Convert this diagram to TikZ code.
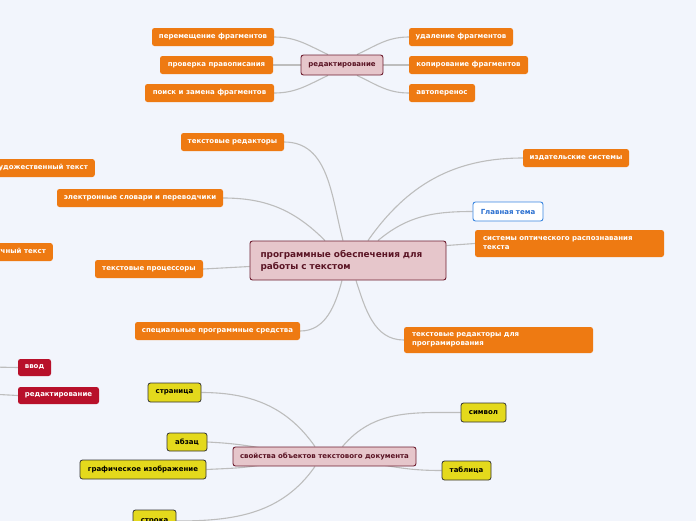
\documentclass[tikz,border=0pt]{standalone}
\usepackage{fontspec}
\newfontfamily\dv{DejaVu Sans}
\usetikzlibrary{calc}
\definecolor{bgc}{HTML}{F2F5FC}
\definecolor{orc}{HTML}{EE7A12}
\definecolor{pkf}{HTML}{E6C6CB}
\definecolor{pkd}{HTML}{6E1E30}
\definecolor{pkt}{HTML}{5A1424}
\definecolor{rdc}{HTML}{B8102A}
\definecolor{ylc}{HTML}{E4D91C}
\definecolor{bld}{HTML}{3A86E0}
\definecolor{blt}{HTML}{2A6FD0}
\definecolor{lnc}{HTML}{BDBDBD}
\pgfdeclarelayer{back}
\pgfdeclarelayer{edges}
\pgfsetlayers{back,edges,main}
\tikzset{
  base/.style={rectangle, rounded corners=2.5pt, inner sep=0pt, minimum height=18pt,
    font=\dv\bfseries\fontsize{7}{8}\selectfont},
  orangebox/.style={base, fill=orc, text=white},
  redbox/.style={base, fill=rdc, text=white, minimum height=17pt},
  yellowbox/.style={base, fill=ylc, draw=black!80, line width=0.8pt, text=black, minimum height=19pt},
  pinkbox/.style={base, fill=pkf, draw=pkd, line width=0.9pt, text=pkt},
  bluebox/.style={base, fill=white, draw=bld, line width=0.9pt, text=blt, minimum height=19pt},
  twoline/.style={align=left, inner xsep=8pt, font=\dv\bfseries\fontsize{7}{9}\selectfont},
  conn/.style={draw=lnc, line width=1.1pt},
}
\begin{document}
\begin{tikzpicture}[x=1pt,y=1pt]
\useasboundingbox (0,0) rectangle (696,-520);
\clip (0,0) rectangle (696,-520);
\begin{pgfonlayer}{back}
\fill[bgc] (-5,5) rectangle (701,-525);
\end{pgfonlayer}

% top cluster
\node[pinkbox, minimum width=82pt, minimum height=20pt] (ed) at (342,-65) {редактирование};
\node[orangebox, minimum width=122pt] (pf) at (213,-37) {перемещение фрагментов};
\node[orangebox, minimum width=113pt] (pp) at (216.5,-65) {проверка правописания};
\node[orangebox, minimum width=129pt] (pz) at (209.5,-93) {поиск и замена фрагментов};
\node[orangebox, minimum width=104pt] (uf) at (461,-37) {удаление фрагментов};
\node[orangebox, minimum width=119pt] (kf) at (468.5,-65) {копирование фрагментов};
\node[orangebox, minimum width=66pt] (ap) at (442,-93) {автоперенос};

% main cluster
\node[pinkbox, text width=175pt, inner xsep=10.5pt, minimum height=39pt, align=left,
  font=\dv\bfseries\fontsize{8.9}{12}\selectfont] (main) at (348,-260.5)
  {программные обеспечения для\\работы с текстом};
\node[orangebox, minimum width=103pt] (tr) at (232.5,-142) {текстовые редакторы};
\node[orangebox, anchor=east, inner xsep=7pt] (ht) at (95,-168) {художественный текст};
\node[orangebox, minimum width=166pt] (es) at (140,-198) {электронные словари и переводчики};
\node[orangebox, anchor=east, inner xsep=7pt] (nt) at (53,-252) {научный текст};
\node[orangebox, minimum width=108pt] (tp) at (149,-269) {текстовые процессоры};
\node[orangebox, minimum width=165pt] (sp) at (217.5,-331) {специальные программные средства};
\node[orangebox, minimum width=106pt] (is) at (576,-158) {издательские системы};
\node[bluebox, minimum width=70pt] (gt) at (508,-211.5) {Главная тема};
\node[orangebox, twoline, text width=173pt, minimum height=27pt] (so) at (569.5,-243.5)
  {системы оптического распознавания\\текста};
\node[orangebox, twoline, text width=173pt, minimum height=26pt] (trp) at (498.5,-340)
  {текстовые редакторы для\\програмирования};

% red nodes
\node[redbox, minimum width=33pt] (vv) at (34.5,-367.5) {ввод};
\node[redbox, minimum width=81pt] (rd) at (58.5,-395.5) {редактирование};
\coordinate (vvin) at (-10,-367);
\coordinate (rdin) at (-10,-394);

% bottom cluster
\node[pinkbox, minimum width=183pt, minimum height=19pt] (sv) at (324.5,-456.5) {свойства объектов текстового документа};
\node[yellowbox, minimum width=53pt] (st) at (174.5,-392.5) {страница};
\node[yellowbox, minimum width=40pt, minimum height=18pt] (ab) at (187,-442) {абзац};
\node[yellowbox, minimum width=126pt] (gi) at (143,-469.5) {графическое изображение};
\node[yellowbox, minimum width=43pt, minimum height=22pt] (sk) at (154.5,-521) {строка};
\node[yellowbox, minimum width=45pt] (sm) at (483.5,-412.5) {символ};
\node[yellowbox, minimum width=49pt] (tb) at (466.5,-470.5) {таблица};

\begin{pgfonlayer}{edges}
% top
\draw[conn] (pf.east) to[out=0,in=155] ([xshift=-14pt]ed.north);
\draw[conn] (pp.east) -- (ed.west);
\draw[conn] (pz.east) to[out=0,in=205] ([xshift=-14pt]ed.south);
\draw[conn] (uf.west) to[out=180,in=25] ([xshift=15pt]ed.north);
\draw[conn] (kf.west) -- (ed.east);
\draw[conn] (ap.west) to[out=180,in=-25] ([xshift=15pt]ed.south);
% main
\draw[conn] (tr.east) to[out=0,in=105] ([xshift=-5pt]main.north);
\draw[conn] (es.east) to[out=0,in=135] ([xshift=-23pt]main.north);
\draw[conn] (tp.east) -- ([yshift=-6pt]main.west);
\draw[conn] (sp.east) to[out=0,in=-105] ([xshift=-6pt]main.south);
\draw[conn] (is.west) to[out=180,in=55] ([xshift=20pt]main.north);
\draw[conn] (gt.west) to[out=180,in=40] ([xshift=30pt]main.north);
\draw[conn] (so.west) -- ([yshift=15pt]main.east);
\draw[conn] (trp.west) to[out=180,in=-72] ([xshift=8pt]main.south);
% red
\draw[conn] (vvin) -- (vv.west);
\draw[conn] (rdin) -- (rd.west);
% bottom
\draw[conn] (st.east) to[out=0,in=125] ([xshift=-9.5pt]sv.north);
\draw[conn] (ab.east) to[out=-3,in=170] ([xshift=-60pt,yshift=-2pt]sv.north);
\draw[conn] (gi.east) to[out=3,in=190] ([xshift=-60pt,yshift=2pt]sv.south);
\draw[conn] (sk.east) to[out=0,in=-125] ([xshift=-9.5pt]sv.south);
\draw[conn] (sm.west) to[out=180,in=50] ([xshift=18pt]sv.north);
\draw[conn] (tb.west) to[out=180,in=-10] ([xshift=55pt,yshift=2pt]sv.south);
\end{pgfonlayer}
\end{tikzpicture}
\end{document}
